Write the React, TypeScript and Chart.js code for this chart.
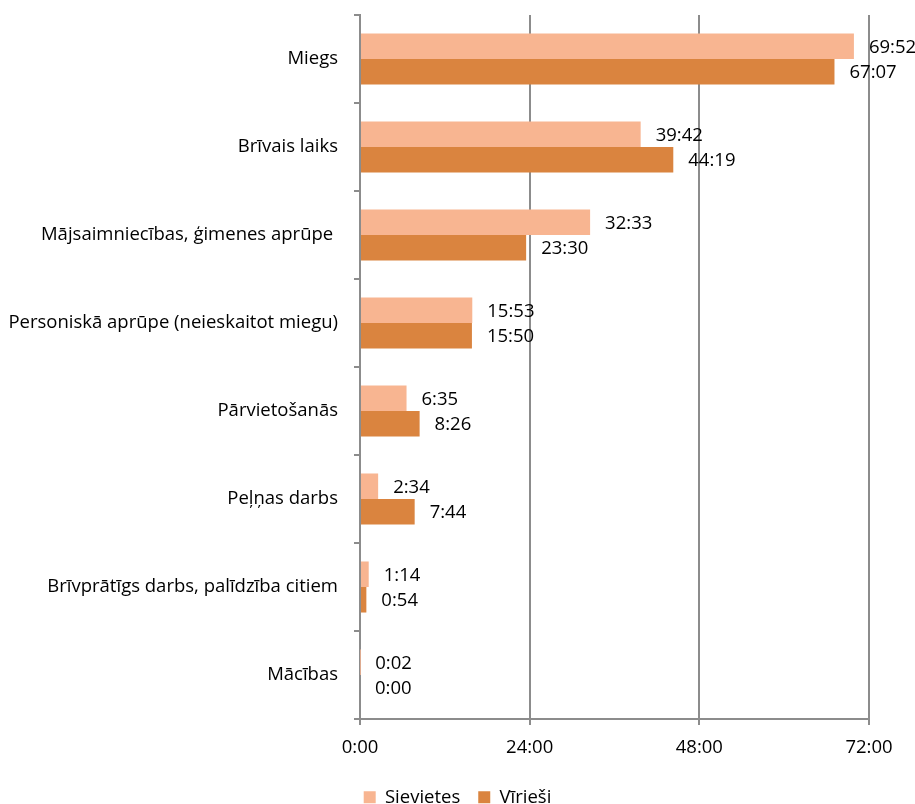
import React, { useEffect, useRef } from "react";
import { Chart, registerables } from "chart.js";

Chart.register(...registerables);

const categories = [
  "Miegs",
  "Brīvais laiks",
  "Mājsaimniecības, ģimenes aprūpe ",
  "Personiskā aprūpe (neieskaitot miegu)",
  "Pārvietošanās",
  "Peļņas darbs",
  "Brīvprātīgs darbs, palīdzība citiem",
  "Mācības",
];

const sievietes = ["69:52", "39:42", "32:33", "15:53", "6:35", "2:34", "1:14", "0:02"];
const virieshi = ["67:07", "44:19", "23:30", "15:50", "8:26", "7:44", "0:54", "0:00"];

const xTicks = [0, 24, 48, 72];

const toHours = (s: string) => {
  const [h, m] = s.split(":").map(Number);
  return h + m / 60;
};
const fmt = (v: number) => {
  const h = Math.floor(v);
  const m = Math.round((v - h) * 60);
  return `${h}:${String(m).padStart(2, "0")}`;
};

const FONT = "'Open Sans', sans-serif";
const FS = 18.5;
const GRID = "#8c8c8c";

const labelPlugin = {
  id: "valueLabels",
  afterDatasetsDraw(chart: any) {
    const ctx = chart.ctx;
    ctx.save();
    ctx.font = `${FS}px ${FONT}`;
    ctx.fillStyle = "#000";
    ctx.textAlign = "left";
    ctx.textBaseline = "middle";
    const sources = [sievietes, virieshi];
    chart.data.datasets.forEach((ds: any, di: number) => {
      const meta = chart.getDatasetMeta(di);
      meta.data.forEach((bar: any, i: number) => {
        ctx.fillText(sources[di][i], bar.x + 15, bar.y + 1);
      });
    });
    ctx.restore();
  },
};

export default function App() {
  const ref = useRef<HTMLCanvasElement | null>(null);
  useEffect(() => {
    if (!ref.current) return;
    const chart = new Chart(ref.current, {
      type: "bar",
      data: {
        labels: categories,
        datasets: [
          {
            label: "Sievietes",
            data: sievietes.map(toHours),
            backgroundColor: "#F8B591",
            categoryPercentage: 0.58,
            barPercentage: 1,
          },
          {
            label: "Vīrieši",
            data: virieshi.map(toHours),
            backgroundColor: "#DA843F",
            categoryPercentage: 0.58,
            barPercentage: 1,
          },
        ],
      },
      options: {
        indexAxis: "y",
        animation: false,
        responsive: false,
        maintainAspectRatio: false,
        layout: { padding: { left: 0, right: 0, top: 15, bottom: 0 } },
        plugins: {
          legend: {
            position: "bottom",
            maxHeight: 34,
            labels: {
              boxWidth: 12,
              boxHeight: 12,
              padding: 18,
              color: "#000",
              font: { family: FONT, size: FS },
            },
          },
          tooltip: { enabled: false },
        },
        scales: {
          x: {
            min: 0,
            max: 72,
            afterBuildTicks: (scale: any) => {
              scale.ticks = xTicks.map((v) => ({ value: v }));
            },
            afterFit: (scale: any) => {
              scale.height = 51;
              scale.paddingLeft = 0;
              scale.paddingRight = 46;
            },
            ticks: {
              color: "#000",
              font: { family: FONT, size: FS },
              padding: 12,
              callback: (v: any) => fmt(Number(v)),
              maxRotation: 0,
            },
            grid: {
              color: GRID,
              lineWidth: 2,
              tickLength: 6,
              drawOnChartArea: true,
            },
            border: { color: GRID, width: 2 },
          },
          y: {
            afterFit: (scale: any) => {
              scale.width = 360;
              scale.paddingTop = 0;
              scale.paddingBottom = 0;
            },
            ticks: {
              color: "#000",
              font: { family: FONT, size: FS },
              padding: 16,
            },
            grid: {
              offset: true,
              drawOnChartArea: false,
              color: GRID,
              lineWidth: 2,
              tickLength: 6,
            },
            border: { color: GRID, width: 2 },
          },
        },
      },
      plugins: [labelPlugin],
    });
    return () => chart.destroy();
  }, []);
  return (
    <div style={{ position: "fixed", left: 0, top: 0, width: 915, height: 804, background: "#fff" }}>
      <canvas ref={ref} width={915} height={804} style={{ width: 915, height: 804 }} />
    </div>
  );
}
